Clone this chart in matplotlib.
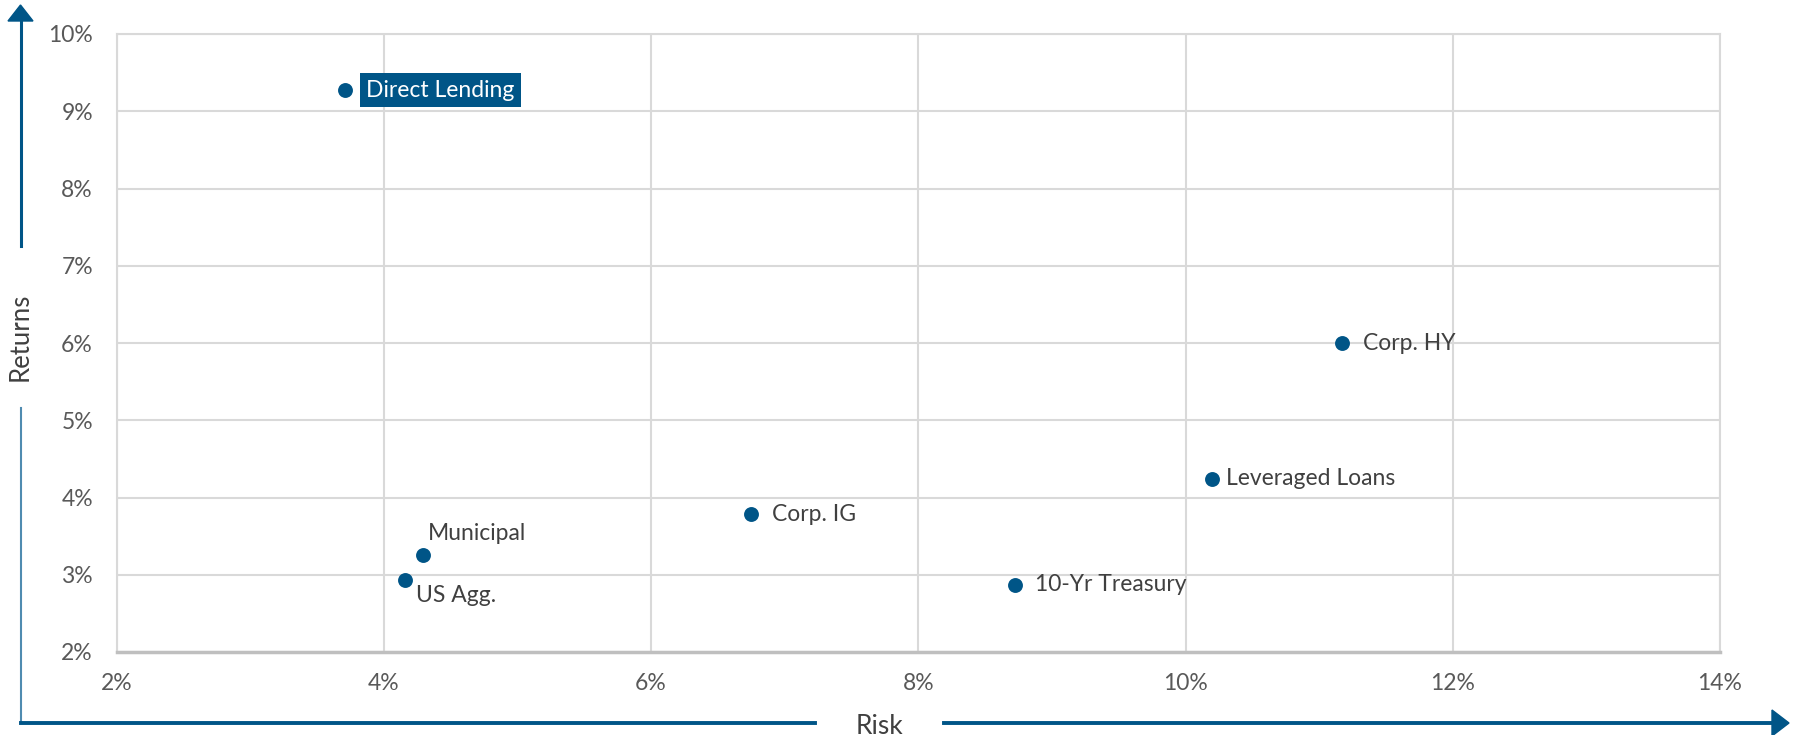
import matplotlib
matplotlib.use("Agg")
import matplotlib.pyplot as plt
from matplotlib.lines import Line2D
from matplotlib.patches import Polygon
from matplotlib.ticker import FuncFormatter

plt.rcParams["font.family"] = ["Lato", "DejaVu Sans"]

# ── data ──
names   = ["Direct Lending", "Corp. HY", "Leveraged Loans", "Corp. IG",
           "10-Yr Treasury", "Municipal", "US Agg."]
risk    = [3.71, 11.17, 10.20, 6.75, 8.72, 4.29, 4.16]
returns = [9.27, 6.00, 4.24, 3.78, 2.87, 3.26, 2.93]
x_ticks = [2, 4, 6, 8, 10, 12, 14]
y_ticks = [2, 3, 4, 5, 6, 7, 8, 9, 10]

BLUE  = "#005587"
GRID  = "#d9d9d9"
TICK  = "#595959"
TEXT  = "#404040"

W, H = 1793, 735
fig = plt.figure(figsize=(W / 100, H / 100), dpi=100)
ax = fig.add_axes([116.6 / W, 1 - 652 / H, (1720 - 116.6) / W, (652 - 34) / H])

ax.scatter(risk, returns, s=115, color=BLUE, zorder=3, linewidths=0)

# label offsets in points (dx, dy, ha, va)
offsets = {
    "Direct Lending":  (11, 0, "left", "center"),
    "Corp. HY":        (15, 0, "left", "center"),
    "Leveraged Loans": (10, 0, "left", "center"),
    "Corp. IG":        (15, 0, "left", "center"),
    "10-Yr Treasury":  (15, 0, "left", "center"),
    "Municipal":       (4, 15, "left", "center"),
    "US Agg.":         (8, -11, "left", "center"),
}
for n, x, y in zip(names, risk, returns):
    dx, dy, ha, va = offsets[n]
    if n == "Direct Lending":
        ax.annotate(n, (x, y), xytext=(dx + 4, dy), textcoords="offset points",
                    ha=ha, va=va, fontsize=16.5, color="white", zorder=4,
                    bbox=dict(boxstyle="square,pad=0.28", fc=BLUE, ec="none"))
    else:
        ax.annotate(n, (x, y), xytext=(dx, dy), textcoords="offset points",
                    ha=ha, va=va, fontsize=16.5, color=TEXT, zorder=4)

ax.set_xlim(2, 14)
ax.set_ylim(2, 10)
ax.set_xticks(x_ticks)
ax.set_yticks(y_ticks)
ax.xaxis.set_major_formatter(FuncFormatter(lambda v, p: f"{v:.0f}%"))
ax.yaxis.set_major_formatter(FuncFormatter(lambda v, p: f"{v:.0f}%"))
ax.tick_params(length=0, labelsize=16.5, labelcolor=TICK)
ax.tick_params(axis="y", pad=17)
ax.tick_params(axis="x", pad=15)
ax.grid(True, color=GRID, linewidth=1.5)
ax.set_axisbelow(True)
for s in ["top", "right", "left"]:
    ax.spines[s].set_color(GRID)
    ax.spines[s].set_linewidth(1.5)
ax.spines["bottom"].set_color("#bfbfbf")
ax.spines["bottom"].set_linewidth(2.5)

# ── axis arrows in figure coords ──
def fx(px):
    return px / W

def fy(py):
    return 1 - py / H

ax_x = 20.5
ax_y = 723
lw = 2.2
fig.add_artist(Line2D([fx(ax_x), fx(ax_x)], [fy(246), fy(20)], color=BLUE, lw=lw))
fig.add_artist(Line2D([fx(ax_x), fx(ax_x)], [fy(ax_y), fy(408)], color="#4f8bb0", lw=1.5))
fig.add_artist(Line2D([fx(ax_x), fx(815)], [fy(ax_y), fy(ax_y)], color=BLUE, lw=lw + 0.6))
fig.add_artist(Line2D([fx(944), fx(1772)], [fy(ax_y), fy(ax_y)], color=BLUE, lw=lw + 0.6))
fig.add_artist(Polygon([[fx(ax_x - 12.5), fy(21)], [fx(ax_x + 12.5), fy(21)], [fx(ax_x), fy(5)]],
                       closed=True, color=BLUE, transform=fig.transFigure))
fig.add_artist(Polygon([[fx(1772), fy(ax_y - 13)], [fx(1772), fy(ax_y + 13)], [fx(1789), fy(ax_y)]],
                       closed=True, color=BLUE, transform=fig.transFigure))

fig.text(fx(880), fy(ax_y + 3), "Risk", ha="center", va="center", fontsize=19, color=TEXT)
fig.text(fx(ax_x), fy(337), "Returns", ha="center", va="center", rotation=90,
         fontsize=18.5, color=TEXT)

fig.savefig("out.png", dpi=100, facecolor="white")
